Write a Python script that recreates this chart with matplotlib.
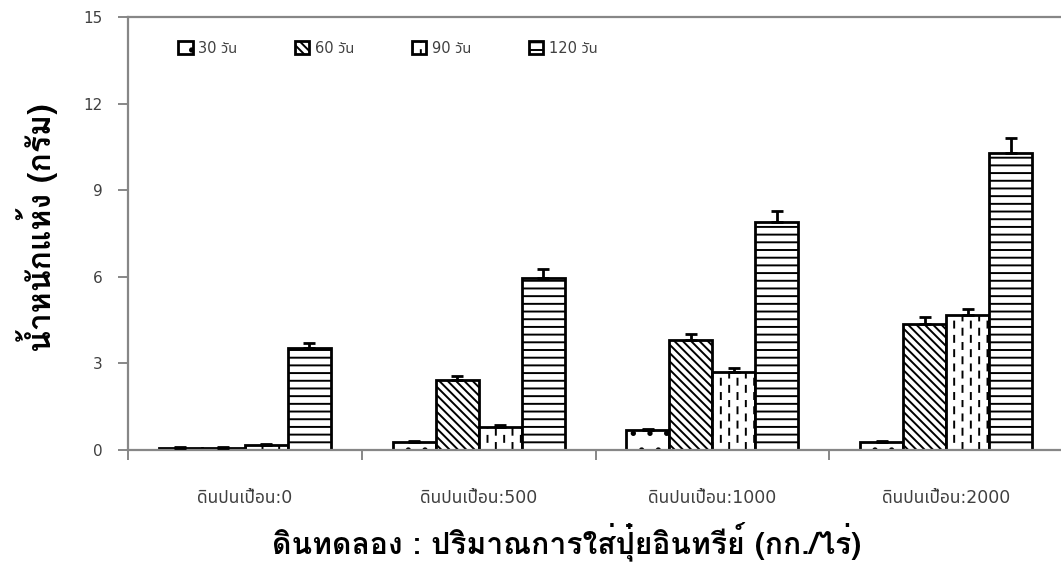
import numpy as np
import matplotlib
matplotlib.use("Agg")
import matplotlib.pyplot as plt
import matplotlib.hatch as mhatch
from matplotlib.path import Path
from matplotlib.ticker import FixedLocator

# ---------------- data ----------------
categories = ["ดินปนเปื้อน:0", "ดินปนเปื้อน:500", "ดินปนเปื้อน:1000", "ดินปนเปื้อน:2000"]
series_names = ["30 วัน", "60 วัน", "90 วัน", "120 วัน"]
d30 = [0.08, 0.28, 0.69, 0.28]
d60 = [0.08, 2.42, 3.81, 4.37]
d90 = [0.18, 0.80, 2.71, 4.67]
d120 = [3.52, 5.96, 7.89, 10.30]
e30 = [0.01, 0.02, 0.03, 0.02]
e60 = [0.01, 0.13, 0.20, 0.23]
e90 = [0.03, 0.05, 0.14, 0.23]
e120 = [0.17, 0.31, 0.39, 0.52]
yticks = [0, 3, 6, 9, 12, 15]
ylabel = "น้ำหนักแห้ง (กรัม)"
xlabel = "ดินทดลอง : ปริมาณการใส่ปุ๋ยอินทรีย์ (กก./ไร่)"

# ---------------- custom hatches ----------------
class HLinesHatch(mhatch.HatchPatternBase):
    def __init__(self, hatch, density):
        self.num_lines = int((hatch.count('-') + hatch.count('+')) * 13)
        self.num_vertices = self.num_lines * 2

    def set_vertices_and_codes(self, vertices, codes):
        steps, stepsize = np.linspace(0.0, 1.0, self.num_lines, False, retstep=True)
        steps += stepsize / 2.
        vertices[0::2, 0] = 0.0
        vertices[0::2, 1] = steps
        vertices[1::2, 0] = 1.0
        vertices[1::2, 1] = steps
        codes[0::2] = Path.MOVETO
        codes[1::2] = Path.LINETO


class VDashHatch(mhatch.HatchPatternBase):
    ncols = 12
    nper = 7

    def __init__(self, hatch, density):
        n = hatch.count('|')
        self.num_vertices = (self.ncols * self.nper * 2) if n else 0

    def set_vertices_and_codes(self, vertices, codes):
        per = 1.0 / self.nper
        dash = 0.42 * per
        idx = 0
        for c in range(self.ncols):
            x = (c + 0.5) / self.ncols
            off = 0.01 if c % 2 == 0 else 0.5 * per + 0.01
            for k in range(self.nper):
                y0 = k * per + off
                vertices[idx] = (x, y0)
                vertices[idx + 1] = (x, y0 + dash)
                codes[idx] = Path.MOVETO
                codes[idx + 1] = Path.LINETO
                idx += 2

mhatch._hatch_types[0] = HLinesHatch
mhatch._hatch_types[1] = VDashHatch

# ---------------- style ----------------
plt.rcParams['font.family'] = ['DejaVu Sans', 'Noto Sans Thai']
plt.rcParams['hatch.linewidth'] = 1.4
plt.rcParams['hatch.color'] = 'black'
axis_gray = '#878787'
text_gray = '#404040'
label_font = ['Loma', 'Noto Sans Thai Looped', 'DejaVu Sans']

fig = plt.figure(figsize=(10.61, 5.83), dpi=100)
ax = fig.add_axes([128 / 1061, (583 - 450) / 583, (1063 - 128) / 1061, 433 / 583])

x = np.arange(len(categories))
w = 0.184
values = [d30, d60, d90, d120]
errors = [e30, e60, e90, e120]
hatches = ['.', '\\\\\\\\', '|', '-']

for i, (vals, errs, h, name) in enumerate(zip(values, errors, hatches, series_names)):
    xs = x + (i - 1.5) * w
    ax.bar(xs, vals, width=w, facecolor='white', edgecolor='black',
           linewidth=2.0, hatch=h, label=name, zorder=2)
    ax.errorbar(xs, vals, yerr=[np.zeros(len(errs)), errs], fmt='none',
                ecolor='black', elinewidth=2.0, capsize=4.5, capthick=2.0, zorder=3)

ax.set_xlim(-0.5, len(categories) - 0.5)
ax.set_ylim(0, 15)
ax.set_yticks(yticks)
ax.set_yticklabels([str(t) for t in yticks])
ax.set_xticks(x)
ax.set_xticklabels(categories)
ax.xaxis.set_minor_locator(FixedLocator(np.arange(len(categories) + 1) - 0.5))

for s in ['left', 'bottom', 'top']:
    ax.spines[s].set_color(axis_gray)
    ax.spines[s].set_linewidth(1.6)
ax.spines['right'].set_visible(False)

ax.tick_params(axis='y', which='major', length=7, width=1.4, color=axis_gray,
               labelsize=11, labelcolor=text_gray, pad=11)
ax.tick_params(axis='x', which='major', length=0, labelsize=12.5, labelcolor=text_gray, pad=28)
ax.tick_params(axis='x', which='minor', length=7, width=1.4, color=axis_gray)

leg = ax.legend(loc='center left', bbox_to_anchor=(0.0535, 0.928), ncol=4, frameon=False,
                fontsize=10.5, handlelength=1.0, handleheight=1.0, handletextpad=0.35,
                columnspacing=3.98, borderaxespad=0, borderpad=0)
for t in leg.get_texts():
    t.set_color(text_gray)

fig.text(567 / 1061, 1 - 541 / 583, xlabel, ha='center', va='center',
         fontsize=21.7, fontweight='bold', color='black', family=label_font)
fig.text(37 / 1061, 1 - 228 / 583, ylabel, ha='center', va='center', rotation=90,
         fontsize=23, fontweight='bold', color='black', family=label_font)

fig.savefig("out.png", dpi=100)
